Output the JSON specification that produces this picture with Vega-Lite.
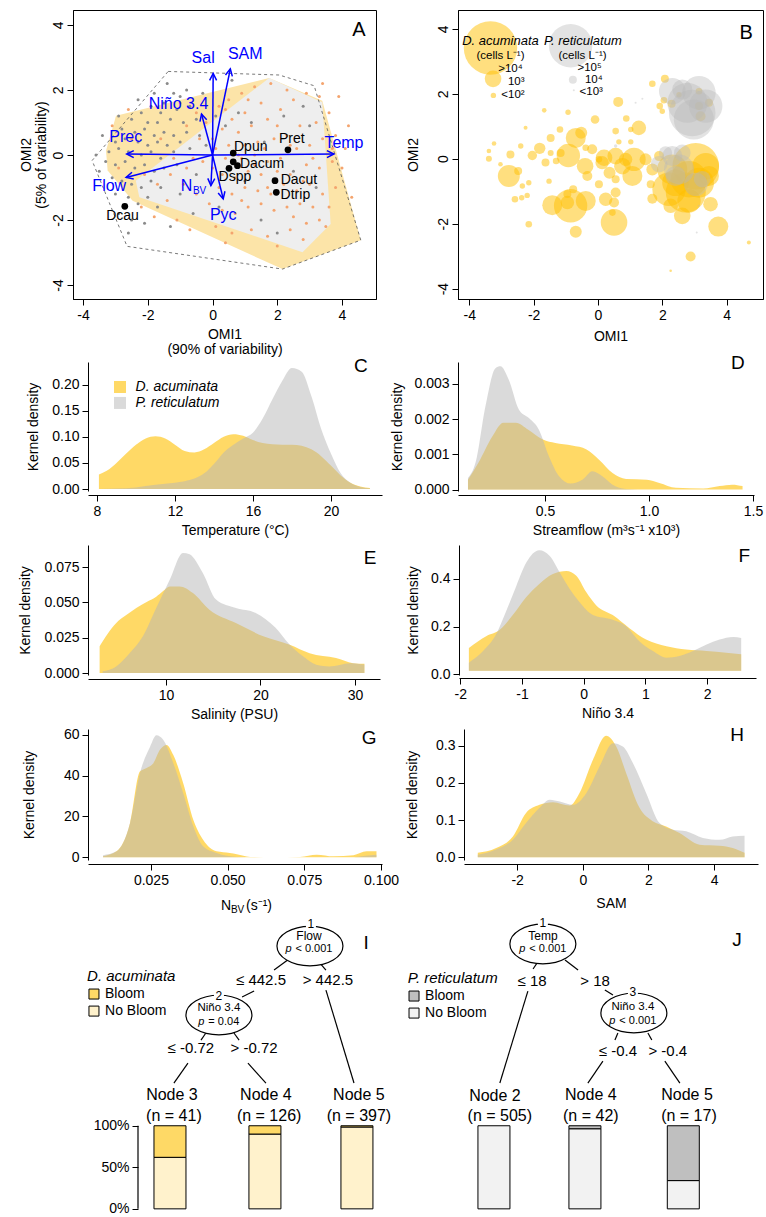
{
"$schema":"https://vega.github.io/schema/vega-lite/v6.json",
"background":"white",
"padding":{"left":0,"top":7,"right":5,"bottom":5},
"config":{
 "view":{"stroke":null},
 "font":"Liberation Sans",
 "axis":{"labelFont":"Liberation Sans","titleFont":"Liberation Sans","labelFontSize":14,"titleFontSize":14,"titleFontWeight":"normal","labelColor":"black","titleColor":"black","tickColor":"black","domainColor":"black","grid":false,"tickSize":6,"labelPadding":3,"titlePadding":6,"domainWidth":1,"tickWidth":1,"labelFlush":false,"labelOverlap":false},
 "text":{"font":"Liberation Sans","color":"black"}
},
"bounds":"flush",
"spacing":0,
"resolve":{"scale":{"color":"independent","size":"independent"}},
"vconcat":[
{"hconcat":[
 {"width":70,"height":1,"data":{"values":[{}]},"mark":{"type":"point","opacity":0},"encoding":{}},
 {"width":303,"height":289,
  "view":{"stroke":"black","strokeWidth":1},
  "encoding":{
   "x":{"field":"x","type":"quantitative","scale":{"domain":[-4.31,5.05],"nice":false,"zero":false},"axis":{"values":[-4,-2,0,2,4],"labelExpr":"''+datum.value","title":["OMI1","(90% of variability)"],"titlePadding":5,"titleLineHeight":15}},
   "y":{"field":"y","type":"quantitative","scale":{"domain":[-4.43,4.46],"nice":false,"zero":false},"axis":{"values":[-4,-2,0,2,4],"labelExpr":"''+datum.value","labelAngle":-90,"labelAlign":"center","labelBaseline":"bottom","labelPadding":2,"title":["OMI2","(5% of variability)"],"titlePadding":3,"titleLineHeight":15}}
  },
  "layer":[
   {"data":{"values":[{"o":1,"x":-3.29,"y":0.13},{"o":2,"x":-2.98,"y":1.21},{"o":3,"x":1.75,"y":2.37},{"o":4,"x":3.39,"y":1.67},{"o":5,"x":4.58,"y":-2.62},{"o":6,"x":2.16,"y":-3.51},{"o":7,"x":-2.47,"y":-1.41},{"o":8,"x":-3.24,"y":-0.48}]},
    "mark":{"type":"line","filled":true,"fill":"#FCE4A8","strokeWidth":0},
    "encoding":{"order":{"field":"o","type":"quantitative"}}},
   {"data":{"values":[{"o":1,"x":1.75,"y":2.37},{"o":2,"x":3.39,"y":1.62},{"o":3,"x":3.65,"y":-2.12},{"o":4,"x":2.78,"y":-2.99},{"o":5,"x":-2.26,"y":-1.30},{"o":6,"x":-2.37,"y":-0.79}]},
    "mark":{"type":"line","filled":true,"fill":"#EEEEEE","strokeWidth":0},
    "encoding":{"order":{"field":"o","type":"quantitative"}}},
   {"data":{"values":[{"o":1,"x":-1.37,"y":2.57},{"o":2,"x":2.06,"y":2.46},{"o":3,"x":3.14,"y":2.13},{"o":4,"x":4.58,"y":-2.62},{"o":5,"x":2.16,"y":-3.51},{"o":6,"x":-2.64,"y":-2.81},{"o":7,"x":-3.72,"y":-0.17},{"o":8,"x":-1.37,"y":2.57}]},
    "mark":{"type":"line","stroke":"#555555","strokeDash":[3,3],"strokeWidth":0.8},
    "encoding":{"order":{"field":"o","type":"quantitative"}}},
   {"data":{"values":[{"x":-1.4,"y":2.2},{"x":-1.2,"y":1.9},{"x":-1.0,"y":1.8},{"x":-0.8,"y":2.0},{"x":-1.5,"y":1.6},{"x":-1.9,"y":1.5},{"x":-2.2,"y":1.3},{"x":-1.6,"y":1.3},{"x":-1.1,"y":1.4},{"x":-0.7,"y":1.5},
{"x":-2.5,"y":1.1},{"x":-2.0,"y":1.0},{"x":-1.7,"y":1.0},{"x":-1.3,"y":1.1},{"x":-0.9,"y":1.0},{"x":-0.5,"y":1.1},{"x":-2.8,"y":0.8},{"x":-2.4,"y":0.7},{"x":-2.1,"y":0.8},{"x":-1.8,"y":0.6},
{"x":-1.5,"y":0.7},{"x":-1.2,"y":0.6},{"x":-0.8,"y":0.7},{"x":-3.0,"y":0.4},{"x":-2.7,"y":0.5},{"x":-2.3,"y":0.4},{"x":-2.0,"y":0.3},{"x":-1.7,"y":0.4},{"x":-1.4,"y":0.3},{"x":-1.0,"y":0.4},
{"x":-3.2,"y":0.1},{"x":-2.9,"y":0.2},{"x":-2.6,"y":0.1},{"x":-2.2,"y":0.0},{"x":-1.9,"y":0.1},{"x":-1.6,"y":-0.1},{"x":-1.2,"y":0.1},{"x":-0.7,"y":0.2},{"x":-3.3,"y":-0.2},{"x":-3.0,"y":-0.3},
{"x":-2.7,"y":-0.2},{"x":-2.4,"y":-0.4},{"x":-2.1,"y":-0.3},{"x":-1.8,"y":-0.5},{"x":-1.5,"y":-0.4},{"x":-1.1,"y":-0.3},{"x":-3.1,"y":-0.7},{"x":-2.8,"y":-0.8},{"x":-2.5,"y":-0.9},{"x":-2.2,"y":-1.0},
{"x":-1.9,"y":-0.8},{"x":-1.6,"y":-1.0},{"x":-3.0,"y":-1.2},{"x":-2.6,"y":-1.3},{"x":-2.3,"y":-1.5},{"x":-2.0,"y":-1.3},{"x":-1.7,"y":-1.6},{"x":-2.9,"y":-1.8},{"x":-2.5,"y":-2.0},{"x":-2.1,"y":-2.1},
{"x":-2.6,"y":-2.4},{"x":-3.4,"y":0.6},{"x":-3.5,"y":-0.5},{"x":-2.9,"y":1.2},{"x":-2.3,"y":1.7},{"x":-1.8,"y":1.9},{"x":-0.4,"y":0.6},{"x":-0.2,"y":0.3},{"x":0.1,"y":1.2},{"x":0.4,"y":0.9},
{"x":0.8,"y":1.3},{"x":1.2,"y":1.0},{"x":0.5,"y":-0.4},{"x":1.0,"y":-0.8},{"x":1.6,"y":0.4},{"x":2.2,"y":1.2},{"x":2.8,"y":1.5},{"x":3.0,"y":0.9},{"x":2.5,"y":-0.5},{"x":3.2,"y":-1.0},
{"x":-0.5,"y":-0.6},{"x":-1.0,"y":-1.2},{"x":-0.6,"y":-1.8},{"x":0.2,"y":-1.6},{"x":1.5,"y":-2.0},{"x":2.0,"y":-2.4},{"x":-1.3,"y":-2.2},{"x":-0.3,"y":1.9},{"x":0.6,"y":2.3},{"x":-3.6,"y":0.0}]},
    "mark":{"type":"point","filled":true,"size":9,"color":"#8A8A8A","opacity":1}},
   {"data":{"values":[{"x":0.2,"y":1.5},{"x":0.5,"y":1.7},{"x":0.9,"y":1.9},{"x":1.3,"y":2.1},{"x":1.8,"y":2.2},{"x":1.5,"y":1.6},{"x":1.0,"y":1.3},{"x":0.6,"y":1.1},{"x":0.3,"y":0.8},{"x":0.8,"y":0.7},
{"x":1.2,"y":0.9},{"x":1.7,"y":1.1},{"x":2.1,"y":1.4},{"x":2.5,"y":1.7},{"x":2.9,"y":1.9},{"x":3.3,"y":1.8},{"x":3.6,"y":1.3},{"x":3.2,"y":1.0},{"x":2.7,"y":0.9},{"x":2.3,"y":0.6},
{"x":1.9,"y":0.5},{"x":1.4,"y":0.4},{"x":1.0,"y":0.3},{"x":0.5,"y":0.3},{"x":0.1,"y":0.2},{"x":0.4,"y":-0.1},{"x":0.9,"y":-0.1},{"x":1.3,"y":0.0},{"x":1.7,"y":-0.2},{"x":2.1,"y":-0.1},
{"x":2.6,"y":0.2},{"x":3.0,"y":0.3},{"x":3.4,"y":0.5},{"x":3.8,"y":0.6},{"x":3.7,"y":-0.2},{"x":3.3,"y":-0.4},{"x":2.9,"y":-0.3},{"x":2.4,"y":-0.6},{"x":2.0,"y":-0.5},{"x":1.5,"y":-0.6},
{"x":1.1,"y":-0.5},{"x":0.7,"y":-0.7},{"x":0.3,"y":-0.6},{"x":0.0,"y":-0.4},{"x":-0.3,"y":-0.2},{"x":0.2,"y":-1.0},{"x":0.6,"y":-1.2},{"x":1.0,"y":-1.0},{"x":1.4,"y":-1.1},{"x":1.8,"y":-1.2},
{"x":2.2,"y":-0.9},{"x":2.6,"y":-1.1},{"x":3.0,"y":-0.9},{"x":3.4,"y":-1.2},{"x":3.8,"y":-1.0},{"x":4.0,"y":-0.4},{"x":4.1,"y":0.2},{"x":3.6,"y":-1.6},{"x":3.1,"y":-1.6},{"x":2.7,"y":-1.5},
{"x":2.3,"y":-1.6},{"x":1.9,"y":-1.7},{"x":1.5,"y":-1.5},{"x":1.1,"y":-1.6},{"x":0.7,"y":-1.8},{"x":0.3,"y":-1.7},{"x":-0.1,"y":-1.5},{"x":-0.5,"y":-1.2},{"x":-0.9,"y":-0.9},{"x":-1.3,"y":-0.6},
{"x":-0.8,"y":-0.4},{"x":-0.4,"y":0.5},{"x":-0.8,"y":0.9},{"x":-1.2,"y":-0.1},{"x":-1.7,"y":-0.9},{"x":-2.1,"y":-0.6},{"x":-1.4,"y":-1.4},{"x":-1.8,"y":-1.9},{"x":-1.1,"y":-2.0},{"x":-0.7,"y":-2.3},
{"x":0.1,"y":-2.2},{"x":0.6,"y":-2.4},{"x":1.2,"y":-2.3},{"x":1.7,"y":-2.5},{"x":2.4,"y":-2.3},{"x":2.9,"y":-2.1},{"x":3.3,"y":-2.0},{"x":2.0,"y":-2.8},{"x":2.8,"y":-2.6},{"x":3.5,"y":-2.2},
{"x":4.3,"y":-1.3},{"x":4.2,"y":0.9},{"x":3.9,"y":1.8},{"x":3.4,"y":2.2},{"x":2.3,"y":2.0},{"x":1.1,"y":1.7},{"x":0.4,"y":1.4},{"x":-0.2,"y":1.0},{"x":-0.5,"y":1.3},{"x":-1.0,"y":1.6},
{"x":0.0,"y":0.5},{"x":0.8,"y":0.0},{"x":1.6,"y":0.2},{"x":2.4,"y":0.3},{"x":3.1,"y":-0.1},{"x":2.0,"y":0.9},{"x":1.3,"y":-0.3},{"x":2.8,"y":-0.8},{"x":0.9,"y":-1.4},{"x":1.7,"y":-1.0},
{"x":2.5,"y":-1.9},{"x":3.7,"y":0.2},{"x":-2.5,"y":0.5},{"x":-2.9,"y":-0.4},{"x":-2.2,"y":-1.6},{"x":-3.1,"y":0.9},{"x":-2.6,"y":1.4},{"x":-1.6,"y":0.5},{"x":-0.6,"y":-0.1},{"x":0.4,"y":-2.7}]},
    "mark":{"type":"point","filled":true,"size":9,"color":"#F4A46E","opacity":1}},
   {"data":{"values":[{"x":3.75,"y":0.03,"x0":0,"y0":0},{"x":-2.65,"y":0.03,"x0":0,"y0":0},{"x":-2.67,"y":-0.69,"x0":0,"y0":0},{"x":0.02,"y":2.51,"x0":0,"y0":0},{"x":0.55,"y":2.65,"x0":0,"y0":0},{"x":-0.34,"y":1.26,"x0":0,"y0":0},{"x":-0.05,"y":-0.94,"x0":0,"y0":0},{"x":0.33,"y":-1.35,"x0":0,"y0":0}]},
    "layer":[
     {"mark":{"type":"rule","color":"#0000FF","strokeWidth":1.5},"encoding":{"x2":{"field":"x0"},"y2":{"field":"y0"}}},
     {"transform":[{"calculate":"atan2(datum.x, datum.y)*180/PI","as":"a"}],"mark":{"type":"point","shape":"M-0.5,1L0,0L0.5,1","filled":false,"fill":null,"size":196,"stroke":"#0000FF","strokeWidth":1.5,"opacity":1},"encoding":{"angle":{"field":"a","type":"quantitative","scale":null}}}
    ]},
   {"data":{"values":[{"x":-0.29,"y":2.97,"t":"Sal"},{"x":1.01,"y":3.11,"t":"SAM"},{"x":-1.05,"y":1.57,"t":"Niño 3.4"},{"x":-2.68,"y":0.54,"t":"Prec"},{"x":4.06,"y":0.37,"t":"Temp"},{"x":-3.19,"y":-0.94,"t":"Flow"},{"x":0.33,"y":-1.84,"t":"Pyc"},{"x":-0.8,"y":-0.94,"t":"N"}]},
    "mark":{"type":"text","fontSize":16,"color":"#0000FF","baseline":"middle"},"encoding":{"text":{"field":"t"}}},
   {"data":{"values":[{"x":-0.4,"y":-1.1,"t":"BV"}]},
    "mark":{"type":"text","fontSize":10,"color":"#0000FF","baseline":"middle"},"encoding":{"text":{"field":"t"}}},
   {"data":{"values":[{"x":2.33,"y":0.16},{"x":0.64,"y":0.06},{"x":0.77,"y":-0.33},{"x":0.64,"y":-0.21},{"x":0.51,"y":-0.41},{"x":1.93,"y":-0.79},{"x":1.97,"y":-1.15},{"x":-2.71,"y":-1.58}]},
    "mark":{"type":"point","filled":true,"size":45,"color":"black","opacity":1}},
   {"data":{"values":[{"x":2.45,"y":0.49,"t":"Pret"},{"x":1.18,"y":0.24,"t":"Dpun"},{"x":1.53,"y":-0.28,"t":"Dacum"},{"x":0.69,"y":-0.69,"t":"Dspp"},{"x":2.67,"y":-0.76,"t":"Dacut"},{"x":2.56,"y":-1.22,"t":"Dtrip"},{"x":-2.78,"y":-1.87,"t":"Dcau"}]},
    "mark":{"type":"text","fontSize":14,"baseline":"middle"},"encoding":{"text":{"field":"t"}}},
   {"data":{"values":[{"x":4.52,"y":3.85,"t":"A"}]},
    "mark":{"type":"text","fontSize":20,"baseline":"middle"},"encoding":{"text":{"field":"t"}}}
  ]},
 {"width":82,"height":1,"data":{"values":[{}]},"mark":{"type":"point","opacity":0},"encoding":{}},
 {"width":305,"height":289,
  "view":{"stroke":"black","strokeWidth":1},
  "encoding":{
   "x":{"field":"x","type":"quantitative","scale":{"domain":[-4.35,5.13],"nice":false,"zero":false},"axis":{"values":[-4,-2,0,2,4],"labelExpr":"''+datum.value","title":"OMI1","titlePadding":7}},
   "y":{"field":"y","type":"quantitative","scale":{"domain":[-4.32,4.58],"nice":false,"zero":false},"axis":{"values":[-4,-2,0,2,4],"labelExpr":"''+datum.value","labelAngle":-90,"labelAlign":"center","labelBaseline":"bottom","labelPadding":2,"title":"OMI2","titlePadding":16}},
   "size":{"field":"conc","type":"quantitative","scale":{"type":"pow","exponent":2,"domain":[0,30],"range":[0,3600]},"legend":null}
  },
  "layer":[
   {"data":{"values":[{"x":-3.34,"y":3.41,"conc":26.7},{"x":-3.26,"y":2.46,"conc":8.3},{"x":-3.25,"y":1.95,"conc":2.7},{"x":2.08,"y":2.46,"conc":4},{"x":1.69,"y":2.31,"conc":3.3},{"x":0.63,"y":1.75,"conc":5},{"x":-1.67,"y":1.49,"conc":2.3},{"x":-0.93,"y":1.43,"conc":2.7},{"x":-0.09,"y":1.21,"conc":4.3},{"x":0.88,"y":1.24,"conc":3.3},
{"x":1.27,"y":0.95,"conc":7.3},{"x":1.02,"y":0.9,"conc":2.7},{"x":0.55,"y":0.85,"conc":3.3},{"x":-2.25,"y":0.95,"conc":2},{"x":-1.18,"y":0.9,"conc":3.3},{"x":-1.47,"y":0.64,"conc":4},{"x":-0.52,"y":0.8,"conc":6},{"x":-0.69,"y":0.64,"conc":10},{"x":-3.23,"y":0.47,"conc":2.3},{"x":-3.39,"y":0.24,"conc":2.3},
{"x":-3.39,"y":0,"conc":3},{"x":-3.03,"y":-0.17,"conc":2.3},{"x":-2.72,"y":0.13,"conc":4},{"x":-2.4,"y":0.39,"conc":2.7},{"x":-2.04,"y":0.1,"conc":4.7},{"x":-1.81,"y":0.32,"conc":5.7},{"x":-1.63,"y":-0.12,"conc":4},{"x":-1.47,"y":0.18,"conc":3},{"x":-1.3,"y":-0.07,"conc":3.3},{"x":-1.16,"y":0.18,"conc":4},
{"x":-0.92,"y":0.1,"conc":11.7},{"x":-0.38,"y":0.34,"conc":3.3},{"x":-0.18,"y":0.29,"conc":5},{"x":0.03,"y":-0.02,"conc":3.3},{"x":-0.4,"y":-0.23,"conc":8.3},{"x":-0.33,"y":-0.53,"conc":5},{"x":0.03,"y":-0.79,"conc":4},{"x":0.13,"y":-0.12,"conc":6.7},{"x":0.55,"y":0.08,"conc":8.3},{"x":0.86,"y":-0.02,"conc":6.7},
{"x":1.12,"y":-0.02,"conc":11.7},{"x":0.76,"y":-0.23,"conc":8.3},{"x":1.07,"y":-0.53,"conc":10},{"x":0.55,"y":-0.63,"conc":4},{"x":1.48,"y":-0.02,"conc":6},{"x":1.69,"y":-0.33,"conc":6},{"x":1.9,"y":0.08,"conc":5},{"x":1.64,"y":-0.79,"conc":4},{"x":0.36,"y":-0.43,"conc":6},{"x":0.19,"y":0.03,"conc":8.3},
{"x":-2.77,"y":-0.53,"conc":11},{"x":-2.48,"y":-0.38,"conc":4},{"x":-2.35,"y":-0.84,"conc":2.7},{"x":-2.15,"y":-0.74,"conc":2.7},{"x":-2.58,"y":-1.25,"conc":3.3},{"x":-2.37,"y":-1.2,"conc":2.7},{"x":-2.2,"y":-1.13,"conc":2.7},{"x":-1.52,"y":-0.69,"conc":2.7},{"x":-0.95,"y":-1.09,"conc":4},{"x":-0.77,"y":-0.94,"conc":4},
{"x":-0.85,"y":-1.45,"conc":16.7},{"x":-1.42,"y":-1.43,"conc":10},{"x":-0.95,"y":-1.35,"conc":6.7},{"x":-0.38,"y":-1.3,"conc":10},{"x":0.24,"y":-1.25,"conc":6.7},{"x":0.55,"y":-1.04,"conc":5},{"x":0.5,"y":-1.35,"conc":5},{"x":0.45,"y":-1.66,"conc":3.3},{"x":-0.69,"y":-2.25,"conc":6},{"x":0.5,"y":-1.96,"conc":13.3},
{"x":-2.15,"y":-2.02,"conc":3.3},{"x":1.69,"y":-1.23,"conc":5},{"x":2.26,"y":-1.45,"conc":7.3},{"x":2.62,"y":-1.76,"conc":8.3},{"x":2.83,"y":-0.63,"conc":18.3},{"x":3.04,"y":-0.23,"conc":23.3},{"x":2.31,"y":-0.33,"conc":15},{"x":2.21,"y":-0.94,"conc":16.7},{"x":2.41,"y":-0.74,"conc":13.3},{"x":2.73,"y":-1.04,"conc":20},
{"x":3.14,"y":-0.74,"conc":15},{"x":3.35,"y":-0.23,"conc":13.3},{"x":3.45,"y":-0.53,"conc":10},{"x":3.5,"y":-1.4,"conc":7.3},{"x":2.83,"y":-1.3,"conc":11.7},{"x":3.74,"y":-2.09,"conc":10},{"x":2.88,"y":-3.01,"conc":5},{"x":4.69,"y":-2.58,"conc":2},{"x":2.26,"y":-3.45,"conc":1.3},{"x":2.29,"y":1.69,"conc":4},
{"x":3.14,"y":1.62,"conc":4},{"x":3.14,"y":2.08,"conc":3.3},{"x":3.45,"y":1.72,"conc":4},{"x":3.19,"y":1.31,"conc":5},{"x":2.0,"y":1.46,"conc":2.7},{"x":1.92,"y":1.62,"conc":3.3},{"x":2.05,"y":1.8,"conc":3.3},{"x":2.52,"y":1.97,"conc":2.7},{"x":1.02,"y":0.52,"conc":2.7},{"x":0.65,"y":0.52,"conc":2.7}]},
    "mark":{"type":"circle","color":"#FFC000","opacity":0.5}},
   {"data":{"values":[{"x":-0.85,"y":3.48,"conc":21.7},{"x":-0.78,"y":2.43,"conc":4},{"x":-0.75,"y":2.11,"conc":1},{"x":2.31,"y":2.08,"conc":13.3},{"x":3.14,"y":2.03,"conc":16.7},{"x":2.78,"y":1.72,"conc":20},{"x":2.93,"y":1.41,"conc":23.3},{"x":3.35,"y":1.62,"conc":16.7},{"x":2.62,"y":2.13,"conc":10},{"x":2.98,"y":1.21,"conc":20},
{"x":2.52,"y":-0.33,"conc":15},{"x":2.31,"y":0.08,"conc":10},{"x":2.62,"y":0.18,"conc":8.3},{"x":3.04,"y":-0.79,"conc":11.7},{"x":3.24,"y":-0.63,"conc":8.3},{"x":2.41,"y":-0.53,"conc":10},{"x":2.1,"y":0.18,"conc":6.7},{"x":1.17,"y":1.72,"conc":1},{"x":1.38,"y":1.85,"conc":1},{"x":0.55,"y":0.39,"conc":1.7},
{"x":3.14,"y":-1.45,"conc":1},{"x":3.07,"y":-2.27,"conc":1},{"x":1.9,"y":-0.17,"conc":8.3}]},
    "mark":{"type":"circle","color":"#B8B8B8","opacity":0.4}},
   {"data":{"values":[{"x":-3.03,"y":3.62,"t":"D. acuminata"},{"x":-0.47,"y":3.62,"t":"P. reticulatum"}]},
    "mark":{"type":"text","fontSize":13,"fontStyle":"italic","baseline":"middle"},"encoding":{"text":{"field":"t"},"size":{"value":13}}},
   {"data":{"values":[{"x":-3.03,"y":3.17,"t":"(cells L⁻¹)"},{"x":-2.72,"y":2.75,"t":">10⁴"},{"x":-2.54,"y":2.36,"t":"10³"},{"x":-2.64,"y":1.95,"t":"<10²"},{"x":-0.48,"y":3.17,"t":"(cells L⁻¹)"},{"x":-0.26,"y":2.78,"t":">10⁵"},{"x":-0.13,"y":2.41,"t":"10⁴"},{"x":-0.21,"y":2.04,"t":"<10³"}]},
    "mark":{"type":"text","fontSize":11.5,"baseline":"middle"},"encoding":{"text":{"field":"t"},"size":{"value":11.5}}},
   {"data":{"values":[{"x":4.61,"y":3.87,"t":"B"}]},
    "mark":{"type":"text","fontSize":20,"baseline":"middle"},"encoding":{"text":{"field":"t"},"size":{"value":20}}}
  ]}
],"spacing":0,"bounds":"flush","resolve":{"scale":{"color":"independent","size":"independent"}}},
{"width":1,"height":352,"data":{"values":[{}]},"mark":{"type":"point","opacity":0},"encoding":{}},
{"hconcat":[
 {"width":85,"height":1,"data":{"values":[{}]},"mark":{"type":"point","opacity":0},"encoding":{}},
 {"width":294,"height":129,
  "data":{"values":[
{"s":"D","x":8.1,"y":0.028},{"s":"D","x":8.5,"y":0.035},{"s":"D","x":9,"y":0.05},{"s":"D","x":9.5,"y":0.068},{"s":"D","x":10,"y":0.085},{"s":"D","x":10.5,"y":0.097},{"s":"D","x":11,"y":0.101},{"s":"D","x":11.5,"y":0.097},{"s":"D","x":12,"y":0.085},{"s":"D","x":12.5,"y":0.073},{"s":"D","x":13,"y":0.07},{"s":"D","x":13.5,"y":0.076},{"s":"D","x":14,"y":0.088},{"s":"D","x":14.5,"y":0.1},{"s":"D","x":15,"y":0.105},{"s":"D","x":15.5,"y":0.102},{"s":"D","x":16,"y":0.094},{"s":"D","x":16.5,"y":0.088},{"s":"D","x":17,"y":0.086},{"s":"D","x":17.5,"y":0.085},{"s":"D","x":18,"y":0.085},{"s":"D","x":18.5,"y":0.083},{"s":"D","x":19,"y":0.076},{"s":"D","x":19.5,"y":0.063},{"s":"D","x":20,"y":0.045},{"s":"D","x":20.5,"y":0.026},{"s":"D","x":21,"y":0.012},{"s":"D","x":21.5,"y":0.005},{"s":"D","x":22,"y":0.002},
{"s":"P","x":8.1,"y":0.0},{"s":"P","x":9,"y":0.001},{"s":"P","x":10,"y":0.003},{"s":"P","x":11,"y":0.008},{"s":"P","x":12,"y":0.012},{"s":"P","x":12.5,"y":0.015},{"s":"P","x":13,"y":0.02},{"s":"P","x":13.5,"y":0.03},{"s":"P","x":14,"y":0.048},{"s":"P","x":14.5,"y":0.07},{"s":"P","x":15,"y":0.085},{"s":"P","x":15.5,"y":0.097},{"s":"P","x":16,"y":0.108},{"s":"P","x":16.5,"y":0.135},{"s":"P","x":17,"y":0.172},{"s":"P","x":17.5,"y":0.207},{"s":"P","x":18,"y":0.232},{"s":"P","x":18.5,"y":0.225},{"s":"P","x":19,"y":0.178},{"s":"P","x":19.5,"y":0.115},{"s":"P","x":20,"y":0.068},{"s":"P","x":20.5,"y":0.03},{"s":"P","x":21,"y":0.012},{"s":"P","x":21.5,"y":0.004},{"s":"P","x":22,"y":0.001}]},
  "encoding":{
   "x":{"field":"x","type":"quantitative","scale":{"domain":[7.54,22.62],"nice":false,"zero":false},"axis":{"values":[8,12,16,20],"title":"Temperature (°C)","offset":4,"titlePadding":5}},
   "y":{"field":"y","type":"quantitative","stack":null,"scale":{"domain":[-0.0038,0.2435],"nice":false,"zero":false},"axis":{"values":[0,0.05,0.1,0.15,0.2],"format":".2f","title":"Kernel density","titlePadding":11}}
  },
  "layer":[
   {"transform":[{"filter":"datum.s=='D'"}],"mark":{"type":"area","color":"#FFC000","opacity":0.6,"interpolate":"monotone"}},
   {"transform":[{"filter":"datum.s=='P'"}],"mark":{"type":"area","color":"#B5B5B5","opacity":0.5,"interpolate":"monotone"}},
   {"data":{"values":[{"x":9.18,"y":0.1956,"cc":"D"},{"x":9.18,"y":0.165,"cc":"P"}]},"mark":{"type":"point","shape":"square","filled":true,"size":144,"opacity":1},"encoding":{"color":{"field":"cc","type":"nominal","scale":{"domain":["D","P"],"range":["#FFD966","#DADADA"]},"legend":null}}},
   {"data":{"values":[{"x":9.98,"y":0.1956,"t":"D. acuminata"},{"x":9.98,"y":0.165,"t":"P. reticulatum"}]},"mark":{"type":"text","align":"left","baseline":"middle","fontStyle":"italic","fontSize":14},"encoding":{"text":{"field":"t"}}},
   {"data":{"values":[{"x":21.54,"y":0.236,"t":"C"}]},"mark":{"type":"text","fontSize":19,"baseline":"middle"},"encoding":{"text":{"field":"t"}}}
  ]},
 {"width":76,"height":1,"data":{"values":[{}]},"mark":{"type":"point","opacity":0},"encoding":{}},
 {"width":296,"height":129,
  "data":{"values":[
{"s":"D","x":0.13,"y":0.00028},{"s":"D","x":0.18,"y":0.00076},{"s":"D","x":0.246,"y":0.0015},{"s":"D","x":0.3,"y":0.0019},{"s":"D","x":0.36,"y":0.0019},{"s":"D","x":0.42,"y":0.0017},{"s":"D","x":0.49,"y":0.00142},{"s":"D","x":0.55,"y":0.00132},{"s":"D","x":0.63,"y":0.00125},{"s":"D","x":0.7,"y":0.00114},{"s":"D","x":0.76,"y":0.00085},{"s":"D","x":0.825,"y":0.00047},{"s":"D","x":0.89,"y":0.0003},{"s":"D","x":0.99,"y":0.00028},{"s":"D","x":1.05,"y":0.00019},{"s":"D","x":1.13,"y":0.00005},{"s":"D","x":1.26,"y":0.00003},{"s":"D","x":1.34,"y":0.0001},{"s":"D","x":1.4,"y":0.00014},{"s":"D","x":1.45,"y":0.0001},
{"s":"P","x":0.13,"y":0.00033},{"s":"P","x":0.166,"y":0.00076},{"s":"P","x":0.214,"y":0.00237},{"s":"P","x":0.262,"y":0.00345},{"s":"P","x":0.286,"y":0.0035},{"s":"P","x":0.326,"y":0.00312},{"s":"P","x":0.375,"y":0.00227},{"s":"P","x":0.423,"y":0.00203},{"s":"P","x":0.471,"y":0.0017},{"s":"P","x":0.519,"y":0.00095},{"s":"P","x":0.568,"y":0.00038},{"s":"P","x":0.624,"y":0.00017},{"s":"P","x":0.68,"y":0.00028},{"s":"P","x":0.728,"y":0.00052},{"s":"P","x":0.776,"y":0.00038},{"s":"P","x":0.825,"y":0.00014},{"s":"P","x":0.889,"y":0.00002},{"s":"P","x":1.0,"y":0.0}]},
  "encoding":{
   "x":{"field":"x","type":"quantitative","scale":{"domain":[0.082,1.505],"nice":false,"zero":false},"axis":{"values":[0.5,1.0,1.5],"format":".1f","title":"Streamflow (m³s⁻¹ x10³)","offset":4,"titlePadding":5}},
   "y":{"field":"y","type":"quantitative","stack":null,"scale":{"domain":[-0.00004,0.003624],"nice":false,"zero":false},"axis":{"values":[0,0.001,0.002,0.003],"format":".3f","title":"Kernel density","titlePadding":9}}
  },
  "layer":[
   {"transform":[{"filter":"datum.s=='D'"}],"mark":{"type":"area","color":"#FFC000","opacity":0.6,"interpolate":"monotone"}},
   {"transform":[{"filter":"datum.s=='P'"}],"mark":{"type":"area","color":"#B5B5B5","opacity":0.5,"interpolate":"monotone"}},
   {"data":{"values":[{"x":1.428,"y":0.0036,"t":"D"}]},"mark":{"type":"text","fontSize":19,"baseline":"middle"},"encoding":{"text":{"field":"t"}}}
  ]}
],"spacing":0,"bounds":"flush","resolve":{"scale":{"color":"independent","size":"independent"}}},
{"width":1,"height":183,"data":{"values":[{}]},"mark":{"type":"point","opacity":0},"encoding":{}},
{"hconcat":[
 {"width":85,"height":1,"data":{"values":[{}]},"mark":{"type":"point","opacity":0},"encoding":{}},
 {"width":292,"height":130,
  "data":{"values":[
{"s":"D","x":2.98,"y":0.0189},{"s":"D","x":4.74,"y":0.0354},{"s":"D","x":5.8,"y":0.041},{"s":"D","x":6.86,"y":0.046},{"s":"D","x":8.0,"y":0.0505},{"s":"D","x":8.97,"y":0.054},{"s":"D","x":9.7,"y":0.058},{"s":"D","x":10.4,"y":0.0613},{"s":"D","x":11.45,"y":0.0613},{"s":"D","x":12.86,"y":0.0566},{"s":"D","x":14.6,"y":0.0448},{"s":"D","x":17.4,"y":0.0354},{"s":"D","x":20.3,"y":0.026},{"s":"D","x":23.1,"y":0.02},{"s":"D","x":25.2,"y":0.014},{"s":"D","x":28.0,"y":0.0106},{"s":"D","x":29.8,"y":0.007},{"s":"D","x":31.0,"y":0.0066},
{"s":"P","x":3.3,"y":0.0012},{"s":"P","x":4.74,"y":0.0047},{"s":"P","x":6.15,"y":0.014},{"s":"P","x":7.56,"y":0.026},{"s":"P","x":8.97,"y":0.046},{"s":"P","x":10.4,"y":0.066},{"s":"P","x":11.8,"y":0.085},{"s":"P","x":12.5,"y":0.084},{"s":"P","x":13.9,"y":0.0708},{"s":"P","x":15.3,"y":0.052},{"s":"P","x":17.4,"y":0.046},{"s":"P","x":19.5,"y":0.0425},{"s":"P","x":21.6,"y":0.032},{"s":"P","x":23.1,"y":0.02},{"s":"P","x":24.5,"y":0.0118},{"s":"P","x":25.9,"y":0.0059},{"s":"P","x":27.3,"y":0.0047},{"s":"P","x":29.5,"y":0.007},{"s":"P","x":31.0,"y":0.006}]},
  "encoding":{
   "x":{"field":"x","type":"quantitative","scale":{"domain":[1.75,32.65],"nice":false,"zero":false},"axis":{"values":[10,20,30],"title":"Salinity (PSU)","offset":4,"titlePadding":5}},
   "y":{"field":"y","type":"quantitative","stack":null,"scale":{"domain":[-0.0014,0.0906],"nice":false,"zero":false},"axis":{"values":[0,0.025,0.05,0.075],"format":".3f","title":"Kernel density","titlePadding":11}}
  },
  "layer":[
   {"transform":[{"filter":"datum.s=='D'"}],"mark":{"type":"area","color":"#FFC000","opacity":0.6,"interpolate":"monotone"}},
   {"transform":[{"filter":"datum.s=='P'"}],"mark":{"type":"area","color":"#B5B5B5","opacity":0.5,"interpolate":"monotone"}},
   {"data":{"values":[{"x":31.59,"y":0.0814,"t":"E"}]},"mark":{"type":"text","fontSize":19,"baseline":"middle"},"encoding":{"text":{"field":"t"}}}
  ]},
 {"width":79,"height":1,"data":{"values":[{}]},"mark":{"type":"point","opacity":0},"encoding":{}},
 {"width":297,"height":130,
  "data":{"values":[
{"s":"D","x":-1.86,"y":0.11},{"s":"D","x":-1.58,"y":0.159},{"s":"D","x":-1.36,"y":0.186},{"s":"D","x":-1.15,"y":0.248},{"s":"D","x":-0.93,"y":0.324},{"s":"D","x":-0.72,"y":0.379},{"s":"D","x":-0.5,"y":0.421},{"s":"D","x":-0.28,"y":0.434},{"s":"D","x":-0.12,"y":0.414},{"s":"D","x":0.04,"y":0.345},{"s":"D","x":0.2,"y":0.29},{"s":"D","x":0.47,"y":0.248},{"s":"D","x":0.74,"y":0.193},{"s":"D","x":1.01,"y":0.145},{"s":"D","x":1.34,"y":0.117},{"s":"D","x":1.66,"y":0.103},{"s":"D","x":1.99,"y":0.097},{"s":"D","x":2.31,"y":0.09},{"s":"D","x":2.55,"y":0.083},
{"s":"P","x":-1.86,"y":0.048},{"s":"P","x":-1.63,"y":0.097},{"s":"P","x":-1.42,"y":0.166},{"s":"P","x":-1.26,"y":0.262},{"s":"P","x":-1.09,"y":0.372},{"s":"P","x":-0.93,"y":0.469},{"s":"P","x":-0.72,"y":0.521},{"s":"P","x":-0.55,"y":0.497},{"s":"P","x":-0.39,"y":0.428},{"s":"P","x":-0.23,"y":0.359},{"s":"P","x":-0.07,"y":0.303},{"s":"P","x":0.15,"y":0.248},{"s":"P","x":0.47,"y":0.228},{"s":"P","x":0.69,"y":0.2},{"s":"P","x":0.9,"y":0.138},{"s":"P","x":1.12,"y":0.097},{"s":"P","x":1.34,"y":0.069},{"s":"P","x":1.55,"y":0.076},{"s":"P","x":1.77,"y":0.097},{"s":"P","x":1.99,"y":0.124},{"s":"P","x":2.2,"y":0.145},{"s":"P","x":2.42,"y":0.156},{"s":"P","x":2.55,"y":0.152}]},
  "encoding":{
   "x":{"field":"x","type":"quantitative","scale":{"domain":[-2.02,2.79],"nice":false,"zero":false},"axis":{"values":[-2,-1,0,1,2],"labelExpr":"''+datum.value","title":"Niño 3.4","offset":3,"titlePadding":5}},
   "y":{"field":"y","type":"quantitative","stack":null,"scale":{"domain":[-0.004,0.543],"nice":false,"zero":false},"axis":{"values":[0,0.2,0.4],"format":".1f","title":"Kernel density","titlePadding":10}}
  },
  "layer":[
   {"transform":[{"filter":"datum.s=='D'"}],"mark":{"type":"area","color":"#FFC000","opacity":0.6,"interpolate":"monotone"},"encoding":{"y2":{"datum":0.014}}},
   {"transform":[{"filter":"datum.s=='P'"}],"mark":{"type":"area","color":"#B5B5B5","opacity":0.5,"interpolate":"monotone"},"encoding":{"y2":{"datum":0.014}}},
   {"data":{"values":[{"x":2.6,"y":0.498,"t":"F"}]},"mark":{"type":"text","fontSize":19,"baseline":"middle"},"encoding":{"text":{"field":"t"}}}
  ]}
],"spacing":0,"bounds":"flush","resolve":{"scale":{"color":"independent","size":"independent"}}},
{"width":1,"height":184,"data":{"values":[{}]},"mark":{"type":"point","opacity":0},"encoding":{}},
{"hconcat":[
 {"width":85,"height":1,"data":{"values":[{}]},"mark":{"type":"point","opacity":0},"encoding":{}},
 {"width":294,"height":131,
  "data":{"values":[
{"s":"D","x":0.0094,"y":0.5},{"s":"D","x":0.0138,"y":2.9},{"s":"D","x":0.0182,"y":16.8},{"s":"D","x":0.0214,"y":42},{"s":"D","x":0.0236,"y":43.7},{"s":"D","x":0.0258,"y":46},{"s":"D","x":0.028,"y":52.7},{"s":"D","x":0.0301,"y":55},{"s":"D","x":0.0323,"y":50},{"s":"D","x":0.0355,"y":36.4},{"s":"D","x":0.0388,"y":18.4},{"s":"D","x":0.042,"y":8.6},{"s":"D","x":0.0464,"y":2.9},{"s":"D","x":0.0507,"y":2.1},{"s":"D","x":0.053,"y":1.5},{"s":"D","x":0.0573,"y":0.2},{"s":"D","x":0.065,"y":0},{"s":"D","x":0.0736,"y":0.2},{"s":"D","x":0.079,"y":1.3},{"s":"D","x":0.0845,"y":0.5},{"s":"D","x":0.091,"y":1},{"s":"D","x":0.0953,"y":2.9},{"s":"D","x":0.0985,"y":2.9},
{"s":"P","x":0.0094,"y":1},{"s":"P","x":0.0138,"y":2.9},{"s":"P","x":0.0182,"y":16.8},{"s":"P","x":0.0214,"y":41},{"s":"P","x":0.0247,"y":54},{"s":"P","x":0.0268,"y":59.7},{"s":"P","x":0.029,"y":57.5},{"s":"P","x":0.0323,"y":46},{"s":"P","x":0.0355,"y":31.5},{"s":"P","x":0.0388,"y":15.2},{"s":"P","x":0.042,"y":5.4},{"s":"P","x":0.0464,"y":2.1},{"s":"P","x":0.053,"y":0.2},{"s":"P","x":0.06,"y":0},{"s":"P","x":0.09,"y":0},{"s":"P","x":0.095,"y":0.8},{"s":"P","x":0.0985,"y":1.3}]},
  "encoding":{
   "x":{"field":"x","type":"quantitative","scale":{"domain":[0.0045,0.1003],"nice":false,"zero":false},"axis":{"values":[0.025,0.05,0.075,0.1],"format":".3f","title":null,"offset":4}},
   "y":{"field":"y","type":"quantitative","stack":null,"scale":{"domain":[-1.32,62.77],"nice":false,"zero":false},"axis":{"values":[0,20,40,60],"title":"Kernel density","titlePadding":27}}
  },
  "layer":[
   {"transform":[{"filter":"datum.s=='D'"}],"mark":{"type":"area","color":"#FFC000","opacity":0.6,"interpolate":"monotone"}},
   {"transform":[{"filter":"datum.s=='P'"}],"mark":{"type":"area","color":"#B5B5B5","opacity":0.5,"interpolate":"monotone"}},
   {"data":{"values":[{"x":0.0961,"y":58.4,"t":"G"}]},"mark":{"type":"text","fontSize":19,"baseline":"middle"},"encoding":{"text":{"field":"t"}}},
   {"data":{"values":[{"x":0.0478,"y":-24.0,"t":"N"},{"x":0.05598,"y":-24.0,"t":"(s⁻¹)"}]},"mark":{"type":"text","fontSize":14,"align":"left","baseline":"middle"},"encoding":{"text":{"field":"t"}}},
   {"data":{"values":[{"x":0.05108,"y":-25.8,"t":"BV"}]},"mark":{"type":"text","fontSize":10,"align":"left","baseline":"middle"},"encoding":{"text":{"field":"t"}}}
  ]},
 {"width":82,"height":1,"data":{"values":[{}]},"mark":{"type":"point","opacity":0},"encoding":{}},
 {"width":294,"height":131,
  "data":{"values":[
{"s":"D","x":-3.2,"y":0.012},{"s":"D","x":-2.64,"y":0.025},{"s":"D","x":-2.13,"y":0.056},{"s":"D","x":-1.73,"y":0.119},{"s":"D","x":-1.32,"y":0.141},{"s":"D","x":-0.91,"y":0.148},{"s":"D","x":-0.4,"y":0.139},{"s":"D","x":-0.1,"y":0.173},{"s":"D","x":0.31,"y":0.262},{"s":"D","x":0.71,"y":0.327},{"s":"D","x":1.02,"y":0.298},{"s":"D","x":1.32,"y":0.227},{"s":"D","x":1.73,"y":0.133},{"s":"D","x":2.13,"y":0.097},{"s":"D","x":2.54,"y":0.083},{"s":"D","x":2.95,"y":0.065},{"s":"D","x":3.56,"y":0.034},{"s":"D","x":4.17,"y":0.031},{"s":"D","x":4.57,"y":0.025},{"s":"D","x":4.93,"y":0.012},
{"s":"P","x":-3.2,"y":0.007},{"s":"P","x":-2.64,"y":0.021},{"s":"P","x":-2.13,"y":0.047},{"s":"P","x":-1.73,"y":0.092},{"s":"P","x":-1.32,"y":0.133},{"s":"P","x":-1.01,"y":0.155},{"s":"P","x":-0.7,"y":0.15},{"s":"P","x":-0.3,"y":0.141},{"s":"P","x":0.11,"y":0.173},{"s":"P","x":0.51,"y":0.244},{"s":"P","x":0.92,"y":0.307},{"s":"P","x":1.22,"y":0.298},{"s":"P","x":1.53,"y":0.253},{"s":"P","x":1.93,"y":0.173},{"s":"P","x":2.34,"y":0.092},{"s":"P","x":2.75,"y":0.074},{"s":"P","x":3.15,"y":0.07},{"s":"P","x":3.66,"y":0.052},{"s":"P","x":4.17,"y":0.047},{"s":"P","x":4.57,"y":0.056},{"s":"P","x":4.93,"y":0.058}]},
  "encoding":{
   "x":{"field":"x","type":"quantitative","scale":{"domain":[-3.62,5.34],"nice":false,"zero":false},"axis":{"values":[-2,0,2,4],"labelExpr":"''+datum.value","title":"SAM","offset":4,"titlePadding":9}},
   "y":{"field":"y","type":"quantitative","stack":null,"scale":{"domain":[-0.0073,0.345],"nice":false,"zero":false},"axis":{"values":[0,0.1,0.2,0.3],"format":".1f","title":"Kernel density","titlePadding":16}}
  },
  "layer":[
   {"transform":[{"filter":"datum.s=='D'"}],"mark":{"type":"area","color":"#FFC000","opacity":0.6,"interpolate":"monotone"}},
   {"transform":[{"filter":"datum.s=='P'"}],"mark":{"type":"area","color":"#B5B5B5","opacity":0.5,"interpolate":"monotone"}},
   {"data":{"values":[{"x":4.7,"y":0.329,"t":"H"}]},"mark":{"type":"text","fontSize":19,"baseline":"middle"},"encoding":{"text":{"field":"t"}}}
  ]}
],"spacing":0,"bounds":"flush","resolve":{"scale":{"color":"independent","size":"independent"}}},
{"width":1,"height":194,"data":{"values":[{}]},"mark":{"type":"point","opacity":0},"encoding":{}},
{"hconcat":[
 {"width":135,"height":1,"data":{"values":[{}]},"mark":{"type":"point","opacity":0},"encoding":{}},
 {"width":246,"height":290,
  "encoding":{
   "x":{"field":"x","type":"quantitative","scale":{"domain":[0,10],"nice":false,"zero":false,"padding":0},"axis":null},
   "y":{"field":"y","type":"quantitative","scale":{"domain":[-0.05,3.44],"nice":false,"zero":false,"padding":0},"axis":{"values":[0,0.5,1],"labelExpr":"(datum.value*100)+'%'","domain":false,"title":null,"labelPadding":3}}
  },
  "layer":[
   {"data":{"values":[{"x":6.14,"y":3.006,"x2":5.53,"y2":2.874},{"x":4.72,"y":2.621,"x2":4.23,"y2":2.549},{"x":7.36,"y":2.97,"x2":7.64,"y2":2.874},{"x":7.64,"y":2.633,"x2":8.78,"y2":1.514},{"x":2.76,"y":2.116,"x2":2.56,"y2":2.031},{"x":2.03,"y":1.754,"x2":1.46,"y2":1.514},{"x":3.9,"y":2.116,"x2":4.11,"y2":2.031},{"x":4.47,"y":1.754,"x2":5.2,"y2":1.514},{"x":0,"y":0,"x2":0,"y2":1}]},
    "mark":{"type":"rule","color":"black","strokeWidth":1.2},"encoding":{"x2":{"field":"x2"},"y2":{"field":"y2"}}},
   {"data":{"values":[{"x":1.3,"y":0,"y2":0.62,"ci":"No Bloom"},{"x":1.3,"y":0.62,"y2":1,"ci":"Bloom"},{"x":5.16,"y":0,"y2":0.9,"ci":"No Bloom"},{"x":5.16,"y":0.9,"y2":1,"ci":"Bloom"},{"x":8.9,"y":0,"y2":0.985,"ci":"No Bloom"},{"x":8.9,"y":0.985,"y2":1,"ci":"Bloom"}]},
    "mark":{"type":"bar","width":32,"stroke":"black","strokeWidth":1},"encoding":{"y2":{"field":"y2"},"color":{"field":"ci","type":"nominal","scale":{"domain":["Bloom","No Bloom"],"range":["#FED966","#FFF2CC"]},"legend":null}}},
   {"data":{"values":[{"x":6.99,"y":3.162},{"x":3.29,"y":2.332}]},
    "mark":{"type":"point","shape":"M-1,0A1,0.6,0,1,1,1,0A1,0.6,0,1,1,-1,0Z","size":4356,"fill":"white","stroke":"black","strokeWidth":1.2,"opacity":1}},
   {"data":{"values":[{"x":7.03,"y":3.427},{"x":3.29,"y":2.561}]},
    "mark":{"type":"point","shape":"square","size":100,"filled":true,"color":"white","opacity":1}},
   {"data":{"values":[{"x":7.03,"y":3.427,"t":"1"},{"x":3.29,"y":2.561,"t":"2"},{"x":6.95,"y":3.283,"t":"Flow"}]},
    "mark":{"type":"text","fontSize":12,"baseline":"middle"},"encoding":{"text":{"field":"t"}}},
   {"data":{"values":[{"x":3.29,"y":2.412,"t":"Niño 3.4"}]},
    "mark":{"type":"text","fontSize":11.5,"baseline":"middle"},"encoding":{"text":{"field":"t"}}},
   {"data":{"values":[{"x":6.24,"y":3.126,"t":"p"},{"x":2.7,"y":2.254,"t":"p"}]},
    "mark":{"type":"text","fontSize":11,"fontStyle":"italic","align":"right","baseline":"middle"},"encoding":{"text":{"field":"t"}}},
   {"data":{"values":[{"x":6.4,"y":3.126,"t":"< 0.001"},{"x":2.86,"y":2.254,"t":"= 0.04"}]},
    "mark":{"type":"text","fontSize":11,"align":"left","baseline":"middle"},"encoding":{"text":{"field":"t"}}},
   {"data":{"values":[{"x":5.0,"y":2.753,"t":"≤ 442.5"},{"x":7.72,"y":2.753,"t":"> 442.5"},{"x":2.15,"y":1.935,"t":"≤ -0.72"},{"x":4.72,"y":1.935,"t":"> -0.72"}]},
    "mark":{"type":"text","fontSize":15,"baseline":"middle"},"encoding":{"text":{"field":"t"}}},
   {"data":{"values":[{"x":1.38,"y":1.369,"t":"Node 3"},{"x":1.46,"y":1.117,"t":"(n = 41)"},{"x":5.2,"y":1.369,"t":"Node 4"},{"x":5.33,"y":1.117,"t":"(n = 126)"},{"x":8.98,"y":1.369,"t":"Node 5"},{"x":8.98,"y":1.117,"t":"(n = 397)"}]},
    "mark":{"type":"text","fontSize":16,"baseline":"middle"},"encoding":{"text":{"field":"t"}}},
   {"data":{"values":[{"x":-1.79,"y":2.585,"ci":"Bloom"},{"x":-1.79,"y":2.38,"ci":"No Bloom"}]},
    "mark":{"type":"point","shape":"square","size":100,"filled":true,"stroke":"black","strokeWidth":1,"opacity":1},"encoding":{"color":{"field":"ci","type":"nominal","legend":null}}},
   {"data":{"values":[{"x":-1.34,"y":2.585,"t":"Bloom"},{"x":-1.34,"y":2.38,"t":"No Bloom"}]},
    "mark":{"type":"text","fontSize":14,"align":"left","baseline":"middle"},"encoding":{"text":{"field":"t"}}},
   {"data":{"values":[{"x":-2.07,"y":2.801,"t":"D. acuminata"}]},
    "mark":{"type":"text","fontSize":15,"fontStyle":"italic","align":"left","baseline":"middle"},"encoding":{"text":{"field":"t"}}},
   {"data":{"values":[{"x":9.27,"y":3.2,"t":"I"}]},
    "mark":{"type":"text","fontSize":19,"baseline":"middle"},"encoding":{"text":{"field":"t"}}}
  ]},
 {"width":1,"height":1,"data":{"values":[{}]},"mark":{"type":"point","opacity":0},"encoding":{}},
 {"width":377,"height":290,
  "encoding":{
   "x":{"field":"x","type":"quantitative","scale":{"domain":[0,15.33],"nice":false,"zero":false,"padding":0},"axis":null},
   "y":{"field":"y","type":"quantitative","scale":{"domain":[-0.05,3.44],"nice":false,"zero":false,"padding":0},"axis":null}
  },
  "layer":[
   {"data":{"values":[{"x":6.18,"y":2.958,"x2":6.02,"y2":2.886},{"x":5.81,"y":2.621,"x2":4.67,"y2":1.514},{"x":7.32,"y":2.994,"x2":7.85,"y2":2.874},{"x":8.94,"y":2.633,"x2":9.27,"y2":2.573},{"x":9.47,"y":2.116,"x2":9.35,"y2":2.031},{"x":8.86,"y":1.778,"x2":8.25,"y2":1.514},{"x":10.69,"y":2.116,"x2":10.85,"y2":2.031},{"x":11.38,"y":1.778,"x2":11.99,"y2":1.514}]},
    "mark":{"type":"rule","color":"black","strokeWidth":1.2},"encoding":{"x2":{"field":"x2"},"y2":{"field":"y2"}}},
   {"data":{"values":[{"x":4.43,"y":0,"y2":1,"cj":"No Bloom"},{"x":8.13,"y":0,"y2":0.964,"cj":"No Bloom"},{"x":8.13,"y":0.964,"y2":1,"cj":"Bloom"},{"x":12.13,"y":0,"y2":0.34,"cj":"No Bloom"},{"x":12.13,"y":0.34,"y2":1,"cj":"Bloom"}]},
    "mark":{"type":"bar","width":32,"stroke":"black","strokeWidth":1},"encoding":{"y2":{"field":"y2"},"color":{"field":"cj","type":"nominal","scale":{"domain":["Bloom","No Bloom"],"range":["#BFBFBF","#F2F2F2"]},"legend":null}}},
   {"data":{"values":[{"x":6.42,"y":3.187},{"x":10.12,"y":2.356}]},
    "mark":{"type":"point","shape":"M-1,0A1,0.6,0,1,1,1,0A1,0.6,0,1,1,-1,0Z","size":4356,"fill":"white","stroke":"black","strokeWidth":1.2,"opacity":1}},
   {"data":{"values":[{"x":6.42,"y":3.439},{"x":10.08,"y":2.609}]},
    "mark":{"type":"point","shape":"square","size":100,"filled":true,"color":"white","opacity":1}},
   {"data":{"values":[{"x":6.42,"y":3.439,"t":"1"},{"x":10.08,"y":2.609,"t":"3"},{"x":6.42,"y":3.283,"t":"Temp"}]},
    "mark":{"type":"text","fontSize":12,"baseline":"middle"},"encoding":{"text":{"field":"t"}}},
   {"data":{"values":[{"x":10.08,"y":2.424,"t":"Niño 3.4"}]},
    "mark":{"type":"text","fontSize":11.5,"baseline":"middle"},"encoding":{"text":{"field":"t"}}},
   {"data":{"values":[{"x":5.71,"y":3.126,"t":"p"},{"x":9.37,"y":2.266,"t":"p"}]},
    "mark":{"type":"text","fontSize":11,"fontStyle":"italic","align":"right","baseline":"middle"},"encoding":{"text":{"field":"t"}}},
   {"data":{"values":[{"x":5.87,"y":3.126,"t":"< 0.001"},{"x":9.53,"y":2.266,"t":"< 0.001"}]},
    "mark":{"type":"text","fontSize":11,"align":"left","baseline":"middle"},"encoding":{"text":{"field":"t"}}},
   {"data":{"values":[{"x":5.98,"y":2.741,"t":"≤ 18"},{"x":8.54,"y":2.741,"t":"> 18"},{"x":9.47,"y":1.899,"t":"≤ -0.4"},{"x":11.5,"y":1.899,"t":"> -0.4"}]},
    "mark":{"type":"text","fontSize":15,"baseline":"middle"},"encoding":{"text":{"field":"t"}}},
   {"data":{"values":[{"x":4.47,"y":1.357,"t":"Node 2"},{"x":4.67,"y":1.117,"t":"(n = 505)"},{"x":8.37,"y":1.369,"t":"Node 4"},{"x":8.37,"y":1.117,"t":"(n = 42)"},{"x":12.28,"y":1.369,"t":"Node 5"},{"x":12.36,"y":1.117,"t":"(n = 17)"}]},
    "mark":{"type":"text","fontSize":16,"baseline":"middle"},"encoding":{"text":{"field":"t"}}},
   {"data":{"values":[{"x":1.18,"y":2.561,"cj":"Bloom"},{"x":1.18,"y":2.356,"cj":"No Bloom"}]},
    "mark":{"type":"point","shape":"square","size":100,"filled":true,"stroke":"black","strokeWidth":1,"opacity":1},"encoding":{"color":{"field":"cj","type":"nominal","legend":null}}},
   {"data":{"values":[{"x":1.63,"y":2.561,"t":"Bloom"},{"x":1.63,"y":2.356,"t":"No Bloom"}]},
    "mark":{"type":"text","fontSize":14,"align":"left","baseline":"middle"},"encoding":{"text":{"field":"t"}}},
   {"data":{"values":[{"x":0.93,"y":2.777,"t":"P. reticulatum"}]},
    "mark":{"type":"text","fontSize":15,"fontStyle":"italic","align":"left","baseline":"middle"},"encoding":{"text":{"field":"t"}}},
   {"data":{"values":[{"x":14.31,"y":3.23,"t":"J"}]},
    "mark":{"type":"text","fontSize":19,"baseline":"middle"},"encoding":{"text":{"field":"t"}}}
  ]}
],"spacing":0,"bounds":"flush","resolve":{"scale":{"color":"independent","size":"independent"}}}
]
}
